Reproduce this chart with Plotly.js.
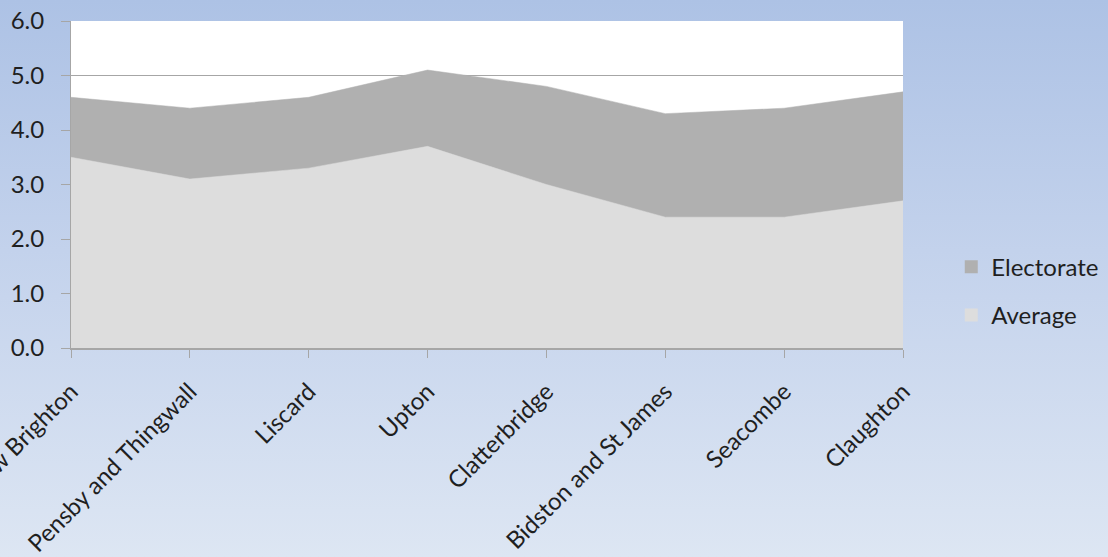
<!DOCTYPE html>
<html>
<head>
<meta charset="utf-8">
<script src="https://cdn.plot.ly/plotly-3.0.1.min.js"></script>
<style>
  html, body { margin: 0; padding: 0; width: 1108px; height: 557px; overflow: hidden; }
  body { background: linear-gradient(to bottom, #adc2e5 0%, #c3d2ec 45%, #dde6f3 100%); }
  #chart { width: 1108px; height: 557px; }
</style>
</head>
<body>
<div id="chart"></div>
<script>
// Wards along the x axis
const wards = ["New Brighton", "Pensby and Thingwall", "Liscard", "Upton",
               "Clatterbridge", "Bidston and St James", "Seacombe", "Claughton"];
// Series values per ward
const electorate = [4.6, 4.4, 4.6, 5.1, 4.8, 4.3, 4.4, 4.7];
const average    = [3.5, 3.1, 3.3, 3.7, 3.0, 2.4, 2.4, 2.7];
// Value axis ticks
const yTicks = [0, 1, 2, 3, 4, 5, 6];
const yTickText = ["0.0", "1.0", "2.0", "3.0", "4.0", "5.0", "6.0"];

const seriesColors = {Electorate: "#b0b0b0", Average: "#dddddd"};
const xs = wards.map((_, i) => i);

const areaTrace = (name, values) => ({
  name: name, x: xs, y: values, type: "scatter", mode: "lines",
  fill: "tozeroy", fillcolor: seriesColors[name],
  line: {color: seriesColors[name], width: 0.5},
  showlegend: false, hoverinfo: "skip"
});

// Square swatches for the legend (no data of their own)
const legendTrace = (name, group) => ({
  name: name, x: [null], y: [null], type: "scatter", mode: "markers",
  marker: {symbol: "square", size: 13, color: seriesColors[name]},
  legendgroup: group, showlegend: true, hoverinfo: "skip"
});

const traces = [
  areaTrace("Electorate", electorate),
  areaTrace("Average", average),
  legendTrace("Electorate", "e"),
  legendTrace("Average", "a")
];

const font = {family: "Lato, 'Open Sans', sans-serif", size: 24, color: "#1f1f1f"};

const layout = {
  width: 1108, height: 557,
  paper_bgcolor: "rgba(0,0,0,0)",
  plot_bgcolor: "#ffffff",
  margin: {l: 71, r: 205, t: 21, b: 209, autoexpand: false},
  font: font,
  showlegend: true,
  legend: {
    x: 1.058, xanchor: "left", y: 0.174, yanchor: "middle",
    bgcolor: "rgba(0,0,0,0)", tracegroupgap: 14,
    font: font, itemwidth: 30
  },
  xaxis: {
    range: [0, 7], tickvals: xs, ticktext: wards, tickangle: -45,
    showgrid: false, zeroline: false,
    showline: true, linecolor: "#a6a6a6", linewidth: 2,
    ticks: "outside", ticklen: 8, tickcolor: "#a6a6a6", tickwidth: 1,
    ticklabeloverflow: "allow", ticklabelstandoff: 10,
    tickfont: font, fixedrange: true
  },
  yaxis: {
    range: [0, 6], tickvals: yTicks, ticktext: yTickText,
    showgrid: true, gridcolor: "#a6a6a6", gridwidth: 1, zeroline: false,
    showline: true, linecolor: "#a6a6a6", linewidth: 1,
    ticks: "outside", ticklen: 9, tickcolor: "#a6a6a6",
    ticklabelstandoff: 12,
    tickfont: font, fixedrange: true
  }
};

Plotly.newPlot("chart", traces, layout, {displayModeBar: false, staticPlot: true});
</script>
</body>
</html>
